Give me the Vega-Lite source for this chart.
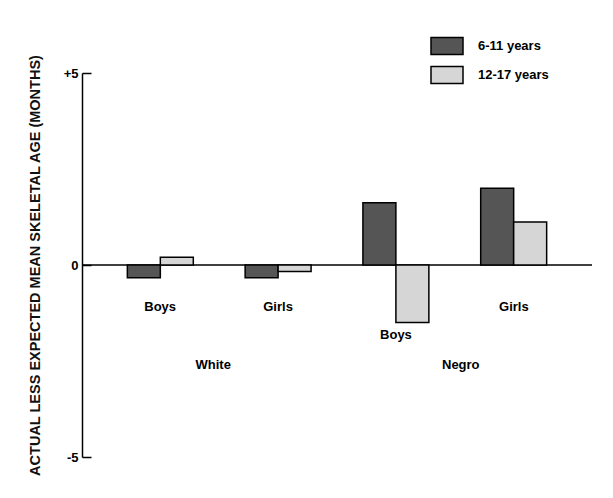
{
  "$schema": "https://vega.github.io/schema/vega-lite/v6.json",
  "width": 510,
  "height": 384,
  "autosize": {"type": "none"},
  "padding": {"left": 82, "top": 73, "right": 21, "bottom": 41},
  "background": "white",
  "config": {"view": {"stroke": null}, "font": "Liberation Sans"},
  "datasets": {
    "bars": [
      {"group": "White Boys", "age": "6-11 years", "value": -0.33},
      {"group": "White Boys", "age": "12-17 years", "value": 0.2},
      {"group": "White Girls", "age": "6-11 years", "value": -0.33},
      {"group": "White Girls", "age": "12-17 years", "value": -0.17},
      {"group": "Negro Boys", "age": "6-11 years", "value": 1.62},
      {"group": "Negro Boys", "age": "12-17 years", "value": -1.5},
      {"group": "Negro Girls", "age": "6-11 years", "value": 2.0},
      {"group": "Negro Girls", "age": "12-17 years", "value": 1.12}
    ],
    "sublabels": [
      {"group": "White Boys", "label": "Boys"},
      {"group": "White Girls", "label": "Girls"},
      {"group": "Negro Boys", "label": "Boys"},
      {"group": "Negro Girls", "label": "Girls"}
    ],
    "races": [
      {"race": "White"},
      {"race": "Negro"}
    ]
  },
  "layer": [
    {
      "data": {"values": [{"v": 0}]},
      "mark": {"type": "rule", "stroke": "black", "strokeWidth": 1.5},
      "encoding": {
        "y": {"field": "v", "type": "quantitative", "scale": {"domain": [-5, 5]}}
      }
    },
    {
      "data": {"name": "bars"},
      "mark": {"type": "bar", "stroke": "black", "strokeWidth": 1.5},
      "encoding": {
        "x": {
          "field": "group", "type": "nominal",
          "scale": {"domain": ["White Boys", "White Girls", "Negro Boys", "Negro Girls"], "paddingInner": 0.44, "paddingOuter": 0.385},
          "axis": null
        },
        "xOffset": {"field": "age", "type": "nominal", "scale": {"domain": ["6-11 years", "12-17 years"]}},
        "y": {
          "field": "value", "type": "quantitative",
          "scale": {"domain": [-5, 5]},
          "axis": {
            "values": [-5, 0, 5],
            "labelExpr": "datum.value > 0 ? '+' + datum.value : '' + datum.value",
            "grid": false,
            "domainColor": "black", "domainWidth": 1.5,
            "tickColor": "black", "tickWidth": 1.5, "tickSize": -9,
            "labelPadding": 13,
            "labelFontSize": 13, "labelFontWeight": "bold", "labelColor": "black",
            "title": "ACTUAL LESS EXPECTED MEAN SKELETAL AGE (MONTHS)",
            "titleFontSize": 14.5, "titleFontWeight": "bold", "titleColor": "#111111",
            "titlePadding": 21
          }
        },
        "fill": {
          "field": "age", "type": "nominal",
          "scale": {"domain": ["6-11 years", "12-17 years"], "range": ["#555555", "#d6d6d6"]},
          "legend": {
            "title": null,
            "orient": "none",
            "legendX": 348,
            "legendY": -44,
            "symbolType": "M-1,-0.53H1V0.53H-1Z",
            "symbolSize": 1024,
            "symbolStrokeColor": "black",
            "symbolStrokeWidth": 1.5,
            "symbolOpacity": 1,
            "labelFontSize": 13,
            "labelFontWeight": "bold",
            "labelColor": "black",
            "labelOffset": 14,
            "rowPadding": -3
          }
        }
      }
    },
    {
      "data": {"name": "sublabels"},
      "transform": [{"filter": "datum.group != 'Negro Boys'"}],
      "mark": {"type": "text", "fontSize": 13, "fontWeight": "bold", "baseline": "middle", "color": "black"},
      "encoding": {
        "x": {
          "field": "group", "type": "nominal",
          "scale": {"type": "point", "domain": ["White Boys", "White Girls", "Negro Boys", "Negro Girls"], "padding": 0.663},
          "axis": null
        },
        "y": {"datum": -1.1, "type": "quantitative"},
        "text": {"field": "label"}
      }
    },
    {
      "data": {"name": "sublabels"},
      "transform": [{"filter": "datum.group == 'Negro Boys'"}],
      "mark": {"type": "text", "fontSize": 13, "fontWeight": "bold", "baseline": "middle", "color": "black"},
      "encoding": {
        "x": {
          "field": "group", "type": "nominal",
          "scale": {"type": "point", "domain": ["White Boys", "White Girls", "Negro Boys", "Negro Girls"], "padding": 0.663},
          "axis": null
        },
        "y": {"datum": -1.82, "type": "quantitative"},
        "text": {"field": "label"}
      }
    },
    {
      "data": {"name": "races"},
      "mark": {"type": "text", "fontSize": 13, "fontWeight": "bold", "baseline": "middle", "color": "black"},
      "encoding": {
        "x": {
          "field": "race", "type": "nominal",
          "scale": {"type": "point", "domain": ["White", "Negro"], "padding": 0.53},
          "axis": null
        },
        "y": {"datum": -2.6, "type": "quantitative"},
        "text": {"field": "race"}
      }
    }
  ],
  "resolve": {"scale": {"x": "independent"}}
}
